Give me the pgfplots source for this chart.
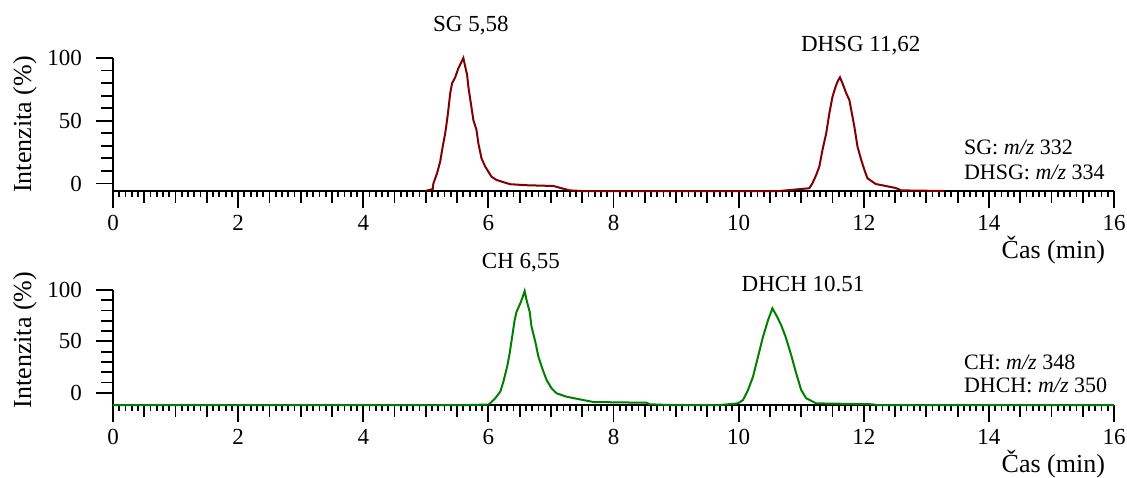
\documentclass[border=0pt]{standalone}
\usepackage{fontspec}
\setmainfont{Liberation Serif}
\usepackage{pgfplots}
\pgfplotsset{compat=1.18}

\definecolor{sgred}{RGB}{128,0,0}
\definecolor{chgreen}{RGB}{0,128,0}

\pgfplotstableread{
x y
4.99 -6
5.11 -4.5
5.12 -0.2
5.18 8.2
5.23 17.5
5.27 29.4
5.31 40.0
5.34 50.6
5.36 58.6
5.39 71.9
5.42 79.9
5.47 84.6
5.52 91.8
5.58 97.8
5.60 100
5.63 93.1
5.66 86.5
5.68 77.2
5.72 63.9
5.76 50.6
5.81 42.6
5.84 32.0
5.89 20.0
5.95 13.4
6.00 9.4
6.05 5.4
6.13 2.8
6.27 0.6
6.35 -0.6
6.61 -1.4
7.04 -2.0
7.17 -3.8
7.30 -5.5
7.50 -6
10.65 -6
11.13 -3.8
11.18 0.2
11.24 6.8
11.29 13.5
11.34 26.7
11.40 40.0
11.45 55.9
11.50 69.1
11.55 77.1
11.58 81.1
11.62 84.6
11.66 79.8
11.72 71.9
11.77 66.5
11.81 55.9
11.85 45.2
11.90 29.3
11.96 18.7
12.01 10.8
12.06 4.1
12.19 -0.4
12.35 -2.0
12.51 -3.6
12.60 -5.5
13.29 -6
}\sgdata

\pgfplotstableread{
x y
0 -12
5.71 -12
6.00 -11.5
6.03 -10.2
6.11 -5.4
6.19 1.0
6.24 10.7
6.30 25.3
6.34 38.3
6.38 54.5
6.42 70.7
6.45 78.8
6.51 86.9
6.55 93.4
6.58 99
6.61 90.2
6.66 78.8
6.69 64.2
6.75 49.6
6.80 35.0
6.87 22.1
6.93 12.4
7.01 4.3
7.09 -0.6
7.25 -3.9
7.46 -6.5
7.68 -9.1
8.53 -9.8
8.58 -11.3
8.90 -12
9.70 -12
9.99 -10.4
10.07 -7.1
10.15 2.6
10.23 15.6
10.31 35.0
10.39 54.5
10.47 70.7
10.54 82.1
10.60 75.6
10.68 65.8
10.75 54.5
10.84 36.6
10.92 18.8
11.00 2.6
11.08 -5.5
11.24 -10.4
12.14 -11.3
12.20 -12
16 -12
}\chdata

\pgfplotsset{chrom/.style={
  scale only axis, width=500.5pt, xmin=0, xmax=16, ymax=100,
  clip=false,
  axis x line*=bottom, axis y line*=left,
  axis line style={line width=1.2pt, black},
  xtick={0,2,...,16}, minor x tick num=19,
  extra x ticks={0.5,1,1.5,2.5,3,3.5,4.5,5,5.5,6.5,7,7.5,8.5,9,9.5,10.5,11,11.5,12.5,13,13.5,14.5,15,15.5},
  extra x tick labels={},
  extra x tick style={major tick length=6pt},
  ytick={0,50,100},
  extra y ticks={10,20,30,40,60,70,80,90},
  extra y tick labels={},
  extra y tick style={major tick length=6pt},
  tick align=outside,
  major tick length=8.5pt, minor tick length=3pt,
  every tick/.style={black, line width=0.9pt},
  /pgf/number format/assume math mode=true,
  tick label style={font=\fontsize{11.5}{13}\selectfont},
  yticklabel style={xshift=-3.5pt},
  ylabel={Intenzita (\%)},
  ylabel style={at={(axis description cs:-0.088,0.5)}, anchor=center, font=\fontsize{13}{15}\selectfont},
  xlabel={Čas (min)},
  xlabel style={at={(axis description cs:1,0)}, anchor=east, yshift=-29.5pt, xshift=-1pt, font=\fontsize{13}{15}\selectfont},
}}

\begin{document}
\begin{tikzpicture}
\useasboundingbox (0,0) rectangle (563.5pt,238.5pt);
\begin{axis}[chrom, at={(56.5pt,143pt)}, anchor=south west, height=66.5pt, ymin=-6]
\addplot[sgred, line width=1pt] table[x=x,y=y] {\sgdata};
\node[font=\fontsize{11.5}{13}\selectfont] at (axis cs:5.72,125.8) {SG 5,58};
\node[font=\fontsize{11.5}{13}\selectfont] at (axis cs:11.95,110) {DHSG 11,62};
\node[anchor=west, font=\fontsize{11}{13}\selectfont] at (axis cs:13.49,28.4) {SG: \textit{m/z} 332};
\node[anchor=west, font=\fontsize{11}{13}\selectfont] at (axis cs:13.49,8.5) {DHSG: \textit{m/z} 334};
\end{axis}
\begin{axis}[chrom, at={(56.5pt,36pt)}, anchor=south west, height=57.5pt, ymin=-12,
  ylabel style={at={(axis description cs:-0.088,0.565)}}]
\addplot[chgreen, line width=1pt] table[x=x,y=y] {\chdata};
\node[font=\fontsize{11.5}{13}\selectfont] at (axis cs:6.52,126.7) {CH 6,55};
\node[font=\fontsize{11.5}{13}\selectfont] at (axis cs:11.03,105.4) {DHCH 10.51};
\node[anchor=west, font=\fontsize{11}{13}\selectfont] at (axis cs:13.49,29.9) {CH: \textit{m/z} 348};
\node[anchor=west, font=\fontsize{11}{13}\selectfont] at (axis cs:13.49,6.8) {DHCH: \textit{m/z} 350};
\end{axis}
\end{tikzpicture}
\end{document}
